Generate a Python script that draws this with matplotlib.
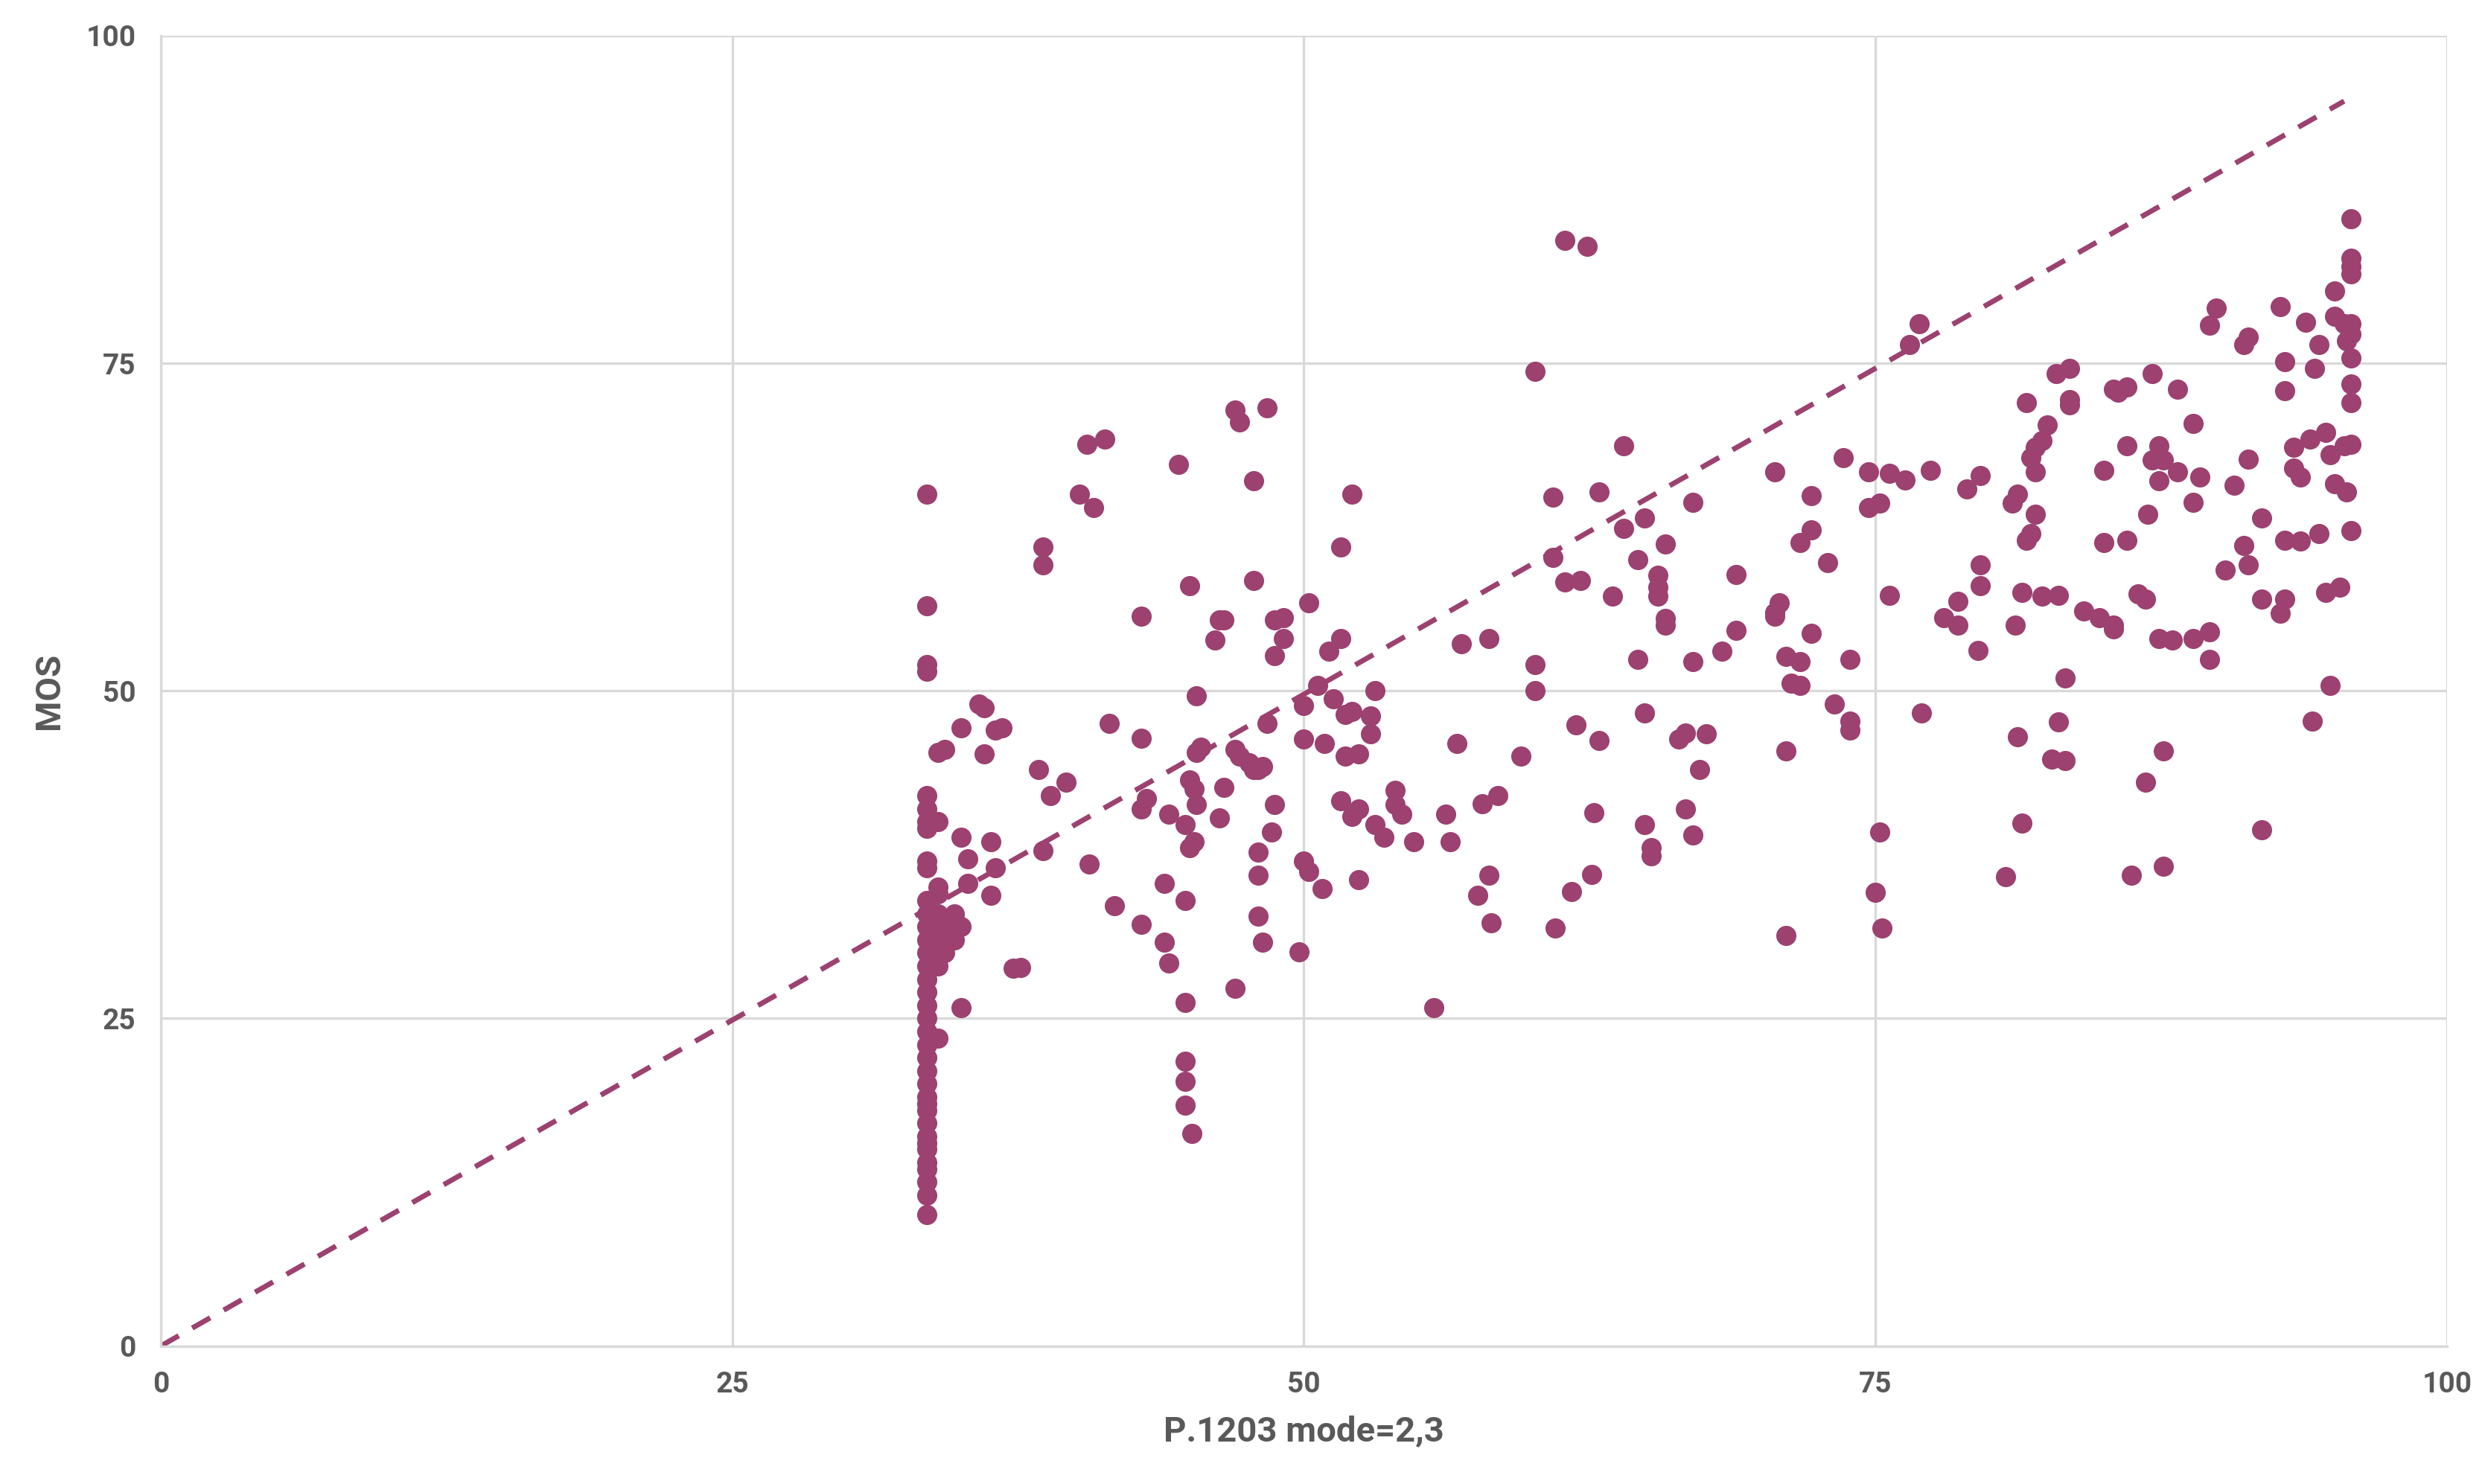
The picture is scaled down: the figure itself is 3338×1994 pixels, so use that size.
import matplotlib
matplotlib.use("Agg")
import matplotlib.pyplot as plt

groups = [
(33.5,[10,11.5,12.5,13.5,14,15,15.5,16,17,18,18.5,19,20,21,22,23,24,25,26,27,28,29,30,31,32,33,34,36.5,37,39.5,40,41,42,51.5,52,56.5,65]),
(34.0,[23.5,29,30,31,32,33,34.5,35,40,45.3]),(34.3,[30,31.5,45.5]),(34.7,[31,32.5,33]),
(35.0,[38.8,25.8,47.2,32]),(35.3,[37.2,35.3]),(35.8,[49]),(36.0,[45.2,48.7]),(36.3,[34.4,38.5]),
(36.5,[36.5,47]),(36.8,[47.2]),(37.3,[28.8]),(37.6,[28.9]),(38.4,[44]),(38.6,[61,59.6,37.8]),
(38.9,[42]),(39.6,[43]),(40.2,[65]),(40.5,[68.8]),(40.6,[36.8]),(40.8,[64]),(41.3,[69.2]),
(41.5,[47.5]),(41.7,[33.6]),(42.9,[46.4,55.7,32.2,41]),(43.1,[41.8]),(43.9,[35.3,30.8]),
(44.1,[40.6,29.2]),(44.5,[67.3]),(44.8,[39.8,34,26.2,21.7,20.2,18.4]),(45.0,[58,43.2,38]),
(45.1,[16.2]),(45.2,[42.5,38.5]),(45.3,[49.6,45.3,41.3]),(45.5,[45.7]),(46.1,[53.9]),
(46.3,[55.4,40.3]),(46.5,[55.4,42.6]),(47.0,[45.5,27.3,71.4]),(47.2,[70.5,45]),(47.6,[44.5]),
(47.8,[66,58.4,44]),(48.0,[44,35.9,32.8,37.7]),(48.2,[30.8,44.2]),(48.4,[71.6,47.5]),(48.6,[39.2]),
(48.7,[55.4,52.7,41.3]),(49.1,[55.6,54]),(49.8,[30.1]),(50.0,[46.3,37,48.9]),(50.2,[36.2,56.7]),
(50.6,[50.4]),(50.8,[34.9]),(50.9,[46]),(51.1,[53]),(51.3,[49.4]),(51.6,[61,54,41.6]),
(51.8,[48.2,45]),(52.1,[65,40.4,48.4]),(52.4,[45.2,35.6,41]),(52.9,[48.1,46.7]),(53.1,[50,39.8]),
(53.5,[38.8]),(54.0,[41.3,42.4]),(54.3,[40.6]),(54.8,[38.5]),(55.7,[25.8]),(56.2,[40.6]),
(56.4,[38.5]),(56.7,[46]),(56.9,[53.6]),(57.6,[34.4]),(57.8,[41.4]),(58.1,[54,35.9]),(58.2,[32.3]),
(58.5,[42]),(59.5,[45]),(60.1,[74.4,52,50]),(60.9,[64.8,60.2]),(61.0,[31.9]),(61.4,[84.4,58.3]),
(61.7,[34.7]),(61.9,[47.4]),(62.1,[58.4]),(62.4,[83.9]),(62.6,[36]),(62.7,[40.7]),(62.9,[46.2,65.2]),
(63.5,[57.2]),(64.0,[62.4,68.7]),(64.6,[52.4,60]),(64.9,[48.3,39.8,63.2]),(65.2,[38,37.4]),
(65.5,[58.8,57.9,57.2]),(65.8,[61.2,55.5,55]),(66.4,[46.3]),(66.7,[41,46.8]),(67.0,[64.4,52.2,39]),
(67.3,[44]),(67.6,[46.7]),(68.3,[53]),(68.9,[58.9,54.6]),(70.6,[66.7,56,55.7]),(70.8,[56.7]),
(71.1,[45.4,31.3,52.6]),(71.3,[50.6]),(71.7,[61.3,52.2,50.4]),(72.2,[62.3,64.9,54.4]),(72.9,[59.8]),
(73.2,[49]),(73.6,[67.8]),(73.9,[52.4,47,47.7]),(74.7,[66.7,64]),(75.0,[34.6]),(75.2,[39.2,64.3]),
(75.3,[31.9]),(75.6,[57.3,66.6]),(76.3,[66.1]),(76.5,[76.4]),(76.9,[78]),(77.0,[48.3]),(77.4,[66.8]),
(78.0,[55.6]),(78.6,[56.8,55]),(79.0,[65.4]),(79.5,[53.1]),(79.6,[59.6,58,66.4]),(80.7,[35.8]),
(81.0,[64.3]),(81.1,[55]),(81.2,[65,46.5]),(81.4,[57.5,39.9]),(81.6,[72,61.5]),(81.8,[62,67.8]),
(82.0,[68.6,66.7,63.5]),(82.3,[69.1,57.2]),(82.5,[70.3]),(82.7,[44.8]),(82.9,[74.2]),(83.0,[57.3,47.6]),
(83.3,[51,44.7]),(83.5,[74.6,72.2,71.8]),(84.1,[56.1]),(84.8,[55.6]),(85.0,[66.8,61.3]),
(85.4,[54.7,55,73]),(85.6,[72.8]),(86.0,[61.5,73.2,68.7]),(86.2,[35.9]),(86.5,[57.4]),(86.8,[57,43]),
(86.9,[63.5]),(87.1,[74.2,67.6]),(87.4,[54,66,68.7]),(87.6,[45.4,36.6,67.6]),(88.0,[53.9]),
(88.2,[73,66.7]),(88.9,[64.4,70.4,54]),(89.2,[66.3]),(89.6,[52.4,54.5,77.9]),(89.9,[79.2]),
(90.3,[59.2]),(90.7,[65.7]),(91.1,[61.1,76.4]),(91.3,[77,59.6,67.7]),(91.9,[39.4,63.2,57]),
(92.7,[55.9,79.3]),(92.9,[61.5,75.1,57,72.9]),(93.3,[67,68.6]),(93.6,[66.3,61.4]),(93.8,[78.1]),
(94.0,[69.2]),(94.1,[47.7]),(94.2,[74.6]),(94.4,[62,76.4]),(94.7,[57.5,69.7]),(94.9,[50.4,68]),
(95.1,[65.8,80.5,78.6]),(95.3,[57.9]),(95.5,[68.7,78]),(95.6,[76.7,65.2]),
(95.8,[86,83,82.4,81.8,78,77.2,75.4,73.4,72,68.8,62.2]),
]
x_vals = [g[0] for g in groups for _ in g[1]]
mos_vals = [y for g in groups for y in g[1]]
diag_x = [0, 95.5]
diag_y = [0, 95]

plt.rcParams['font.family'] = ['Roboto', 'DejaVu Sans']
color = "#9C4170"
fig = plt.figure(figsize=(16.69, 9.97), dpi=200)
ax = fig.add_axes([0.0647, 0.093, 0.92, 0.883])
ax.plot(diag_x, diag_y, ls=(0, (4, 3)), color=color, lw=2.5, zorder=2)
ax.scatter(x_vals, mos_vals, s=95, color=color, zorder=3, linewidths=0)
ax.set_xlim(0, 100); ax.set_ylim(0, 100)
ticks = [0, 25, 50, 75, 100]
ax.set_xticks(ticks); ax.set_yticks(ticks)
ax.grid(True, color="#D9D9D9", lw=1.2)
ax.set_axisbelow(True)
for s in ["top", "right"]:
    ax.spines[s].set_visible(False)
for s in ["left", "bottom"]:
    ax.spines[s].set_color("#D9D9D9"); ax.spines[s].set_linewidth(1.2)
ax.tick_params(length=0, labelsize=14, labelcolor="#595959", pad=12)
for t in ax.get_xticklabels() + ax.get_yticklabels():
    t.set_fontweight("bold")
ax.set_xlabel("P.1203 mode=2,3", fontsize=17, fontweight="bold", color="#595959", labelpad=8)
ax.set_ylabel("MOS", fontsize=17, fontweight="bold", color="#595959", labelpad=10)
fig.savefig("out.png", dpi=200)
